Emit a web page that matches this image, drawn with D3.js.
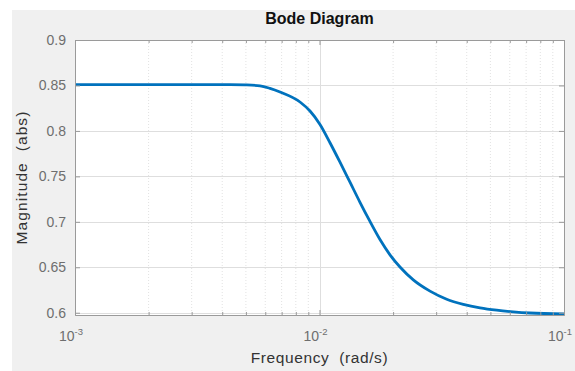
<!DOCTYPE html>
<html>
<head>
<meta charset="utf-8">
<script src="https://cdn.jsdelivr.net/npm/d3@7"></script>
<style>
  html, body { margin: 0; padding: 0; background: #ffffff; }
  svg { display: block; }
  text { font-family: "Liberation Sans", Arial, Helvetica, sans-serif; white-space: pre; }
</style>
</head>
<body>
<svg id="chart" width="575" height="371"></svg>
<script>
// ---- data ----
const title = "Bode Diagram";
const xLabel = "Frequency  (rad/s)";
const yLabel = "Magnitude  (abs)";
const frequency = [0.001, 0.002687, 0.004306, 0.004958, 0.00571, 0.006272, 0.006895, 0.008322, 0.009144,
                   0.010047, 0.011038, 0.012129, 0.013326, 0.014642, 0.016087, 0.017676, 0.019421,
                   0.021339, 0.024187, 0.028312, 0.033134, 0.038733, 0.045339, 0.053066, 0.062035,
                   0.072611, 0.1];
const magnitude = [0.851, 0.851, 0.8509, 0.8506, 0.8496, 0.8468, 0.8428, 0.8318, 0.8219,
                   0.8071, 0.7870, 0.7656, 0.7436, 0.7215, 0.7004, 0.6805, 0.6637,
                   0.6503, 0.6362, 0.6238, 0.6149, 0.6093, 0.6054, 0.6028, 0.6010,
                   0.5997, 0.5986];
const xDomain = [0.001, 0.1];
const yDomain = [0.5975, 0.9];
const yTicks = [0.6, 0.65, 0.7, 0.75, 0.8, 0.85, 0.9];
const yTickLabels = ["0.6", "0.65", "0.7", "0.75", "0.8", "0.85", "0.9"];
const xTicks = [0.001, 0.01, 0.1];
const xTickExponents = ["-3", "-2", "-1"];

// ---- layout ----
const svg = d3.select("#chart");
const W = 575, H = 371;
const plot = { left: 75, right: 564, top: 40, bottom: 315 };

svg.append("rect").attr("x", 12).attr("y", 10).attr("width", W - 12).attr("height", H - 10)
  .attr("fill", "#f0f0f0");

const x = d3.scaleLog().domain(xDomain).range([plot.left, plot.right]);
const y = d3.scaleLinear().domain(yDomain).range([plot.bottom, plot.top]);

svg.append("rect").attr("x", plot.left).attr("y", plot.top)
  .attr("width", plot.right - plot.left).attr("height", plot.bottom - plot.top)
  .attr("fill", "#ffffff");

// minor x positions
const minorX = [];
for (let d = -3; d < -1; d++) {
  for (let m = 2; m <= 9; m++) minorX.push(m * Math.pow(10, d));
}

const g = svg.append("g");
// minor grid
g.selectAll("line.minor").data(minorX).enter().append("line")
  .attr("x1", d => x(d)).attr("x2", d => x(d))
  .attr("y1", plot.top).attr("y2", plot.bottom)
  .attr("stroke", "#e2e2e2").attr("stroke-width", 1).attr("stroke-dasharray", "1,2");
// major grid
g.selectAll("line.gx").data(xTicks).enter().append("line")
  .attr("x1", d => Math.round(x(d)) + 0.5).attr("x2", d => Math.round(x(d)) + 0.5)
  .attr("y1", plot.top).attr("y2", plot.bottom)
  .attr("stroke", "#dedede").attr("stroke-width", 1);
g.selectAll("line.gy").data(yTicks).enter().append("line")
  .attr("x1", plot.left).attr("x2", plot.right)
  .attr("y1", d => Math.round(y(d)) + 0.5).attr("y2", d => Math.round(y(d)) + 0.5)
  .attr("stroke", "#dedede").attr("stroke-width", 1);

// curve
const pts = frequency.map((f, i) => [f, magnitude[i]]);
svg.append("path").datum(pts)
  .attr("d", d3.line().x(d => x(d[0])).y(d => y(d[1])).curve(d3.curveMonotoneX))
  .attr("fill", "none").attr("stroke", "#0072bd").attr("stroke-width", 2.8)
  .attr("stroke-linejoin", "round");

// axes (inward ticks, box)
const axisColor = "#9a9a9a";
const bottomAxis = d3.axisBottom(x).tickValues(xTicks).tickSizeInner(-5).tickSizeOuter(0).tickFormat("");
const topAxis = d3.axisTop(x).tickValues(xTicks).tickSizeInner(-5).tickSizeOuter(0).tickFormat("");
const leftAxis = d3.axisLeft(y).tickValues(yTicks).tickSizeInner(-5).tickSizeOuter(0).tickFormat("");
const rightAxis = d3.axisRight(y).tickValues(yTicks).tickSizeInner(-5).tickSizeOuter(0).tickFormat("");
const minorBottom = d3.axisBottom(x).tickValues(minorX).tickSizeInner(-3).tickSizeOuter(0).tickFormat("");
const minorTop = d3.axisTop(x).tickValues(minorX).tickSizeInner(-3).tickSizeOuter(0).tickFormat("");

function styleAxis(sel) {
  sel.selectAll("path,line").attr("stroke", axisColor);
}
svg.append("g").attr("transform", `translate(0,${plot.bottom})`).call(bottomAxis).call(styleAxis);
svg.append("g").attr("transform", `translate(0,${plot.bottom})`).call(minorBottom).call(styleAxis);
svg.append("g").attr("transform", `translate(0,${plot.top})`).call(topAxis).call(styleAxis);
svg.append("g").attr("transform", `translate(0,${plot.top})`).call(minorTop).call(styleAxis);
svg.append("g").attr("transform", `translate(${plot.left},0)`).call(leftAxis).call(styleAxis);
svg.append("g").attr("transform", `translate(${plot.right},0)`).call(rightAxis).call(styleAxis);

// tick labels
const labelColor = "#6e6e6e";
svg.append("g").selectAll("text").data(yTicks).enter().append("text")
  .attr("x", plot.left - 9).attr("y", d => y(d)).attr("dy", "0.35em")
  .attr("text-anchor", "end").attr("font-size", 14).attr("fill", labelColor)
  .text((d, i) => yTickLabels[i]);

const xl = svg.append("g").selectAll("text").data(xTicks).enter().append("text")
  .attr("x", d => x(d) - 4).attr("y", plot.bottom + 26)
  .attr("text-anchor", "middle").attr("font-size", 14).attr("fill", labelColor);
xl.append("tspan").text("10");
xl.append("tspan").attr("dy", -6).attr("font-size", 9.5).text((d, i) => xTickExponents[i]);

// titles
svg.append("text").attr("x", (plot.left + plot.right) / 2).attr("y", 24)
  .attr("text-anchor", "middle").attr("font-size", 16).attr("font-weight", "bold")
  .attr("fill", "#111").text(title);
svg.append("text").attr("x", (plot.left + plot.right) / 2).attr("y", 363)
  .attr("text-anchor", "middle").attr("font-size", 15.5).attr("letter-spacing", 0.6)
  .attr("fill", "#333").text(xLabel);
svg.append("text").attr("transform", `translate(27,${(plot.top + plot.bottom) / 2}) rotate(-90)`)
  .attr("text-anchor", "middle").attr("font-size", 15.5).attr("letter-spacing", 1.1)
  .attr("fill", "#333").text(yLabel);
</script>
</body>
</html>
